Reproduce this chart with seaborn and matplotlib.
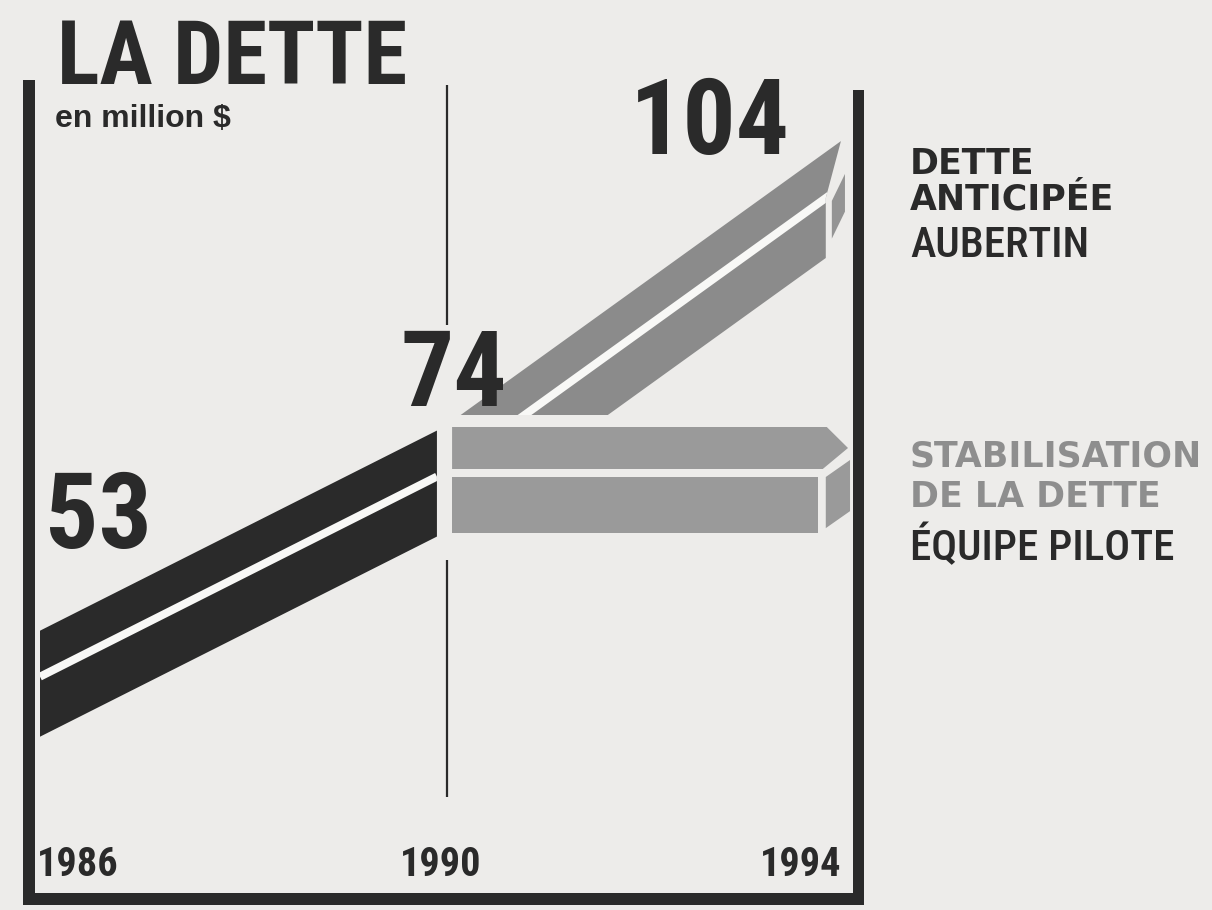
import numpy as np
import seaborn as sns
import matplotlib.pyplot as plt
import matplotlib.font_manager as fm
from matplotlib.patches import Rectangle, Polygon

# valeurs (en million $)
annees_hist = [1986, 1990]
dette_hist = [53, 74]
annees_proj = [1990, 1994]
dette_aubertin = [74, 104]
dette_pilote = [74, 74]
annees_axe = [1986, 1990, 1994]

titre = "LA DETTE"
sous_titre = "en million $"
legende_aubertin = ["DETTE", "ANTICIPÉE", "AUBERTIN"]
legende_pilote = ["STABILISATION", "DE LA DETTE", "ÉQUIPE PILOTE"]

W, H = 1212, 910
FOND = "#edecea"
NOIR = "#2a2a2a"
GRIS_MONTE = "#8b8b8b"
GRIS_PLAT = "#9a9a9a"
GRIS_TEXTE = "#8e8e8e"
BLANC = "#f8f8f6"

sns.set_theme(style="white", rc={"figure.facecolor": FOND, "axes.facecolor": FOND})

# police etroite si disponible
noms = {f.name for f in fm.fontManager.ttflist}
ETROITE = "Liberation Sans"
for cand in ["Roboto Condensed", "Liberation Sans Narrow", "DejaVu Sans Condensed", "Open Sans Condensed"]:
    if cand in noms:
        ETROITE = cand
        break
plt.rcParams["font.family"] = ["DejaVu Sans"]

fig = plt.figure(figsize=(W / 100, H / 100), dpi=100)
ax = fig.add_axes([0, 0, 1, 1])

# echelles : 1986 -> 40 px, 101 px par an ; 74 -> 480 px, 9.7 px par million
PX_AN, PX_UNITE = 101, 9.7
ax.set_xlim(1986 - 40 / PX_AN, 1986 + (W - 40) / PX_AN)
ax.set_ylim(74 - (H - 480) / PX_UNITE, 74 + 480 / PX_UNITE)
ax.axis("off")

DEMI = 53 / PX_UNITE      # demi-epaisseur du ruban
SEP = 7 / PX_UNITE        # decalage du filet blanc
SEP_LW = 8 * 72 / 100     # 8 px


def fx(px):
    return px / W


def fy(py):
    return 1 - py / H


def ruban_diviseur(xs, vs, patch):
    sns.lineplot(x=xs, y=[v + SEP for v in vs], color=BLANC, linewidth=SEP_LW,
                 sort=False, estimator=None, legend=False, ax=ax,
                 solid_capstyle="butt")
    ax.lines[-1].set_clip_path(patch)


# --- 1986-1990 : ruban noir
xa, xb = annees_hist[0], annees_hist[1] - 0.07
va, vb = np.interp([xa, xb], annees_hist, dette_hist)
noir = Polygon([(xa, va + DEMI), (xb, vb + DEMI), (xb, vb - DEMI), (xa, va - DEMI)],
               closed=True, facecolor=NOIR, edgecolor="none")
ax.add_patch(noir)
ruban_diviseur([xa, xb], [va, vb], noir)

# --- 1990-1994 : dette anticipee (ruban qui monte)
def v_aub(x):
    return np.interp(x, annees_proj, dette_aubertin)

y_coupe = dette_pilote[0] + DEMI + 12 / PX_UNITE
xu = np.interp(y_coupe - DEMI, dette_aubertin, annees_proj)
xl = np.interp(y_coupe + DEMI, dette_aubertin, annees_proj)
x_haut = annees_proj[1] - 0.07
x_bas = annees_proj[1] - 0.22
monte = Polygon([(xu, y_coupe), (x_haut, v_aub(x_haut) + DEMI),
                 (x_bas, v_aub(x_bas) + SEP), (x_bas, v_aub(x_bas) - DEMI),
                 (xl, y_coupe)],
                closed=True, facecolor=GRIS_MONTE, edgecolor="none")
ax.add_patch(monte)
ruban_diviseur([annees_proj[0], x_haut], [dette_aubertin[0], v_aub(x_haut)], monte)
# petite face laterale
xs0, xs1 = x_bas + 0.06, x_haut + 0.04
decal = 27 / PX_UNITE
ax.add_patch(Polygon([(xs0, v_aub(x_bas) + SEP - 0.3), (xs1, v_aub(x_bas) + SEP - 0.3 + decal),
                      (xs1, v_aub(x_bas) - DEMI + 2.0 + decal), (xs0, v_aub(x_bas) - DEMI + 2.0)],
                     closed=True, facecolor=GRIS_MONTE, edgecolor="none", alpha=0.9))

# --- 1990-1994 : stabilisation (ruban horizontal en fleche)
v = dette_pilote[0]
x0 = annees_proj[0] + 0.08
x_fin = annees_proj[1]
haut_bas = v + SEP + 4 / PX_UNITE
bas_haut = v + SEP - 4 / PX_UNITE
ax.add_patch(Polygon([(x0, v + DEMI), (x_fin - 0.21, v + DEMI),
                      (x_fin, (v + DEMI + haut_bas) / 2),
                      (x_fin - 0.25, haut_bas), (x0, haut_bas)],
                     closed=True, facecolor=GRIS_PLAT, edgecolor="none"))
ax.add_patch(Polygon([(x0, bas_haut), (x_fin - 0.3, bas_haut),
                      (x_fin - 0.3, v - DEMI), (x0, v - DEMI)],
                     closed=True, facecolor=GRIS_PLAT, edgecolor="none"))
decal_h = 17 / PX_UNITE
ax.add_patch(Polygon([(x_fin - 0.22, bas_haut), (x_fin + 0.02, bas_haut + decal_h),
                      (x_fin + 0.02, v - DEMI + 0.5 + decal_h), (x_fin - 0.22, v - DEMI + 0.5)],
                     closed=True, facecolor=GRIS_PLAT, edgecolor="none"))

# --- cadre
for (x, y, w, h) in [(23, 80, 12, 825), (853, 90, 11, 815), (23, 893, 841, 12)]:
    ax.add_patch(Rectangle((fx(x), fy(y + h)), w / W, h / H, transform=ax.transAxes,
                           facecolor=NOIR, edgecolor="none"))
# filet vertical 1990
for (y0, y1) in [(85, 325), (560, 797)]:
    ax.plot([fx(447), fx(447)], [fy(y0), fy(y1)], transform=ax.transAxes,
            color=NOIR, linewidth=1.6, solid_capstyle="butt")

# --- textes
ax.text(fx(57), fy(84), titre, transform=ax.transAxes, family=[ETROITE, "DejaVu Sans"],
        fontweight="bold", fontsize=64, color=NOIR, va="baseline", ha="left")
ax.text(fx(55), fy(127), sous_titre, transform=ax.transAxes, family=["Liberation Sans", "DejaVu Sans"],
        fontweight="bold", fontsize=23, color=NOIR, va="baseline", ha="left")

etiquettes = [(dette_hist[0], 45, 548, "left"), (dette_hist[1], 400, 406, "left"),
              (dette_aubertin[1], 790, 154, "right")]
for val, px, py, ha in etiquettes:
    ax.text(fx(px), fy(py), f"{val}", transform=ax.transAxes, family=[ETROITE, "DejaVu Sans"],
            fontweight="bold", fontsize=76, color=NOIR, va="baseline", ha=ha)

for an, px in zip(annees_axe, [37, 400, 760]):
    ax.text(fx(px), fy(876), str(an), transform=ax.transAxes, family=[ETROITE, "DejaVu Sans"],
            fontweight="bold", fontsize=29, color=NOIR, va="baseline", ha="left")

# legendes a droite
for txt, py in zip(legende_aubertin[:2], [174, 209]):
    ax.text(fx(910), fy(py), txt, transform=ax.transAxes, fontweight="bold",
            fontsize=25, color=NOIR, va="baseline", ha="left")
ax.text(fx(910), fy(257), legende_aubertin[2], transform=ax.transAxes,
        family=[ETROITE, "DejaVu Sans"], fontweight="medium", fontsize=31,
        color=NOIR, va="baseline", ha="left")

for txt, py in zip(legende_pilote[:2], [467, 507]):
    ax.text(fx(910), fy(py), txt, transform=ax.transAxes, fontweight="bold",
            fontsize=25, color=GRIS_TEXTE, va="baseline", ha="left")
ax.text(fx(910), fy(560), legende_pilote[2], transform=ax.transAxes,
        family=[ETROITE, "DejaVu Sans"], fontweight="medium", fontsize=31,
        color=NOIR, va="baseline", ha="left")

fig.savefig("out.png", dpi=100, facecolor=FOND)
plt.close(fig)
